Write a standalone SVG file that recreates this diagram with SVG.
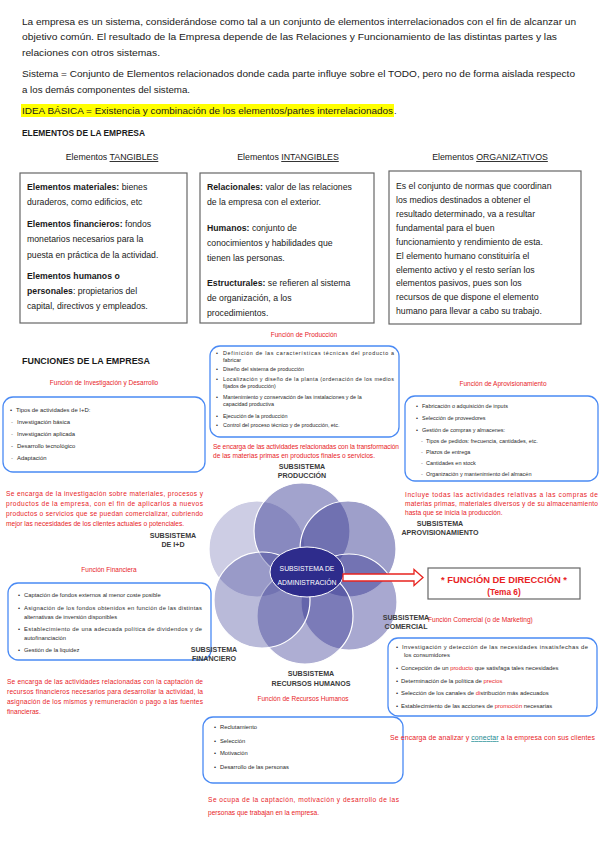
<svg xmlns="http://www.w3.org/2000/svg" width="599" height="848" viewBox="0 0 599 848">
<style>
text{font-family:"Liberation Sans",Arial,sans-serif}
.t{font-size:9.4px;fill:#1a1a1a}
.tb{font-size:9px;fill:#1a1a1a;font-weight:bold}
.bx{font-size:8.7px;fill:#1a1a1a}
.b{font-weight:bold}
.hd{font-size:8.8px;fill:#1a1a1a;text-anchor:middle}
.ebox{fill:#fff;stroke:#666;stroke-width:1.2}
.fbox{fill:#fff;stroke:#4a8af4;stroke-width:1.3}
.s{fill:#2a2a2a}
.r{fill:#e8231f;font-size:6.6px}
.rt{fill:#e8231f;font-size:6.5px;text-anchor:middle}
.lbl{font-size:7.1px;font-weight:bold;fill:#3a3a3a;text-anchor:middle}
.cw{font-size:6.8px;fill:#fff;text-anchor:middle}
.dash{fill:#777}
.c{fill:#3d3f96;stroke:#fff;stroke-width:1.2}
</style>

<g id="intro">
<text class="t" x="22" y="25" textLength="554" lengthAdjust="spacingAndGlyphs">La empresa es un sistema, considerándose como tal a un conjunto de elementos interrelacionados con el fin de alcanzar un</text>
<text class="t" x="22" y="40" textLength="535" lengthAdjust="spacingAndGlyphs">objetivo común. El resultado de la Empresa depende de las Relaciones y Funcionamiento de las distintas partes y las</text>
<text class="t" x="22" y="56" textLength="138" lengthAdjust="spacingAndGlyphs">relaciones con otros sistemas.</text>
<text class="t" x="22" y="77" textLength="553" lengthAdjust="spacingAndGlyphs">Sistema = Conjunto de Elementos relacionados donde cada parte influye sobre el TODO, pero no de forma aislada respecto</text>
<text class="t" x="22" y="93" textLength="168" lengthAdjust="spacingAndGlyphs">a los demás componentes del sistema.</text>
<rect x="21" y="104" width="373" height="13" fill="#ffff00"/>
<text class="t" x="22" y="114" textLength="371" lengthAdjust="spacingAndGlyphs">IDEA BÁSICA = Existencia y combinación de los elementos/partes interrelacionados</text>
<text class="t" x="394" y="114">.</text>
<text class="tb" x="22" y="136" textLength="123" lengthAdjust="spacingAndGlyphs">ELEMENTOS DE LA EMPRESA</text>
</g>

<g id="tangibles">
<text class="hd" x="112" y="160">Elementos <tspan text-decoration="underline">TANGIBLES</tspan></text>
<rect class="ebox" x="20" y="173" width="167" height="150"/>
<text class="bx" x="27" y="190"><tspan class="b">Elementos materiales:</tspan> bienes</text>
<text class="bx" x="27" y="205">duraderos, como edificios, etc</text>
<text class="bx" x="27" y="227"><tspan class="b">Elementos financieros:</tspan> fondos</text>
<text class="bx" x="27" y="242">monetarios necesarios para la</text>
<text class="bx" x="27" y="258">puesta en práctica de la actividad.</text>
<text class="bx b" x="27" y="279">Elementos humanos o</text>
<text class="bx" x="27" y="294"><tspan class="b">personales</tspan>: propietarios del</text>
<text class="bx" x="27" y="309">capital, directivos y empleados.</text>
</g>

<g id="intangibles">
<text class="hd" x="288" y="160">Elementos <tspan text-decoration="underline">INTANGIBLES</tspan></text>
<rect class="ebox" x="200" y="173" width="174" height="150"/>
<text class="bx" x="207" y="190"><tspan class="b">Relacionales:</tspan> valor de las relaciones</text>
<text class="bx" x="207" y="205">de la empresa con el exterior.</text>
<text class="bx" x="207" y="231"> <tspan class="b">Humanos:</tspan> conjunto de</text>
<text class="bx" x="207" y="246">conocimientos y habilidades que</text>
<text class="bx" x="207" y="261">tienen las personas.</text>
<text class="bx" x="207" y="286"><tspan class="b">Estructurales:</tspan> se refieren al sistema</text>
<text class="bx" x="207" y="301">de organización, a los</text>
<text class="bx" x="207" y="316">procedimientos.</text>
</g>

<g id="organizativos">
<text class="hd" x="490" y="160">Elementos <tspan text-decoration="underline">ORGANIZATIVOS</tspan></text>
<rect class="ebox" x="389" y="171" width="192" height="153"/>
<text class="bx" x="396" y="189">Es el conjunto de normas que coordinan</text>
<text class="bx" x="396" y="203">los medios destinados a obtener el</text>
<text class="bx" x="396" y="217">resultado determinado, va a resultar</text>
<text class="bx" x="396" y="231">fundamental para el buen</text>
<text class="bx" x="396" y="245">funcionamiento y rendimiento de esta.</text>
<text class="bx" x="396" y="259">El elemento humano constituiría el</text>
<text class="bx" x="396" y="273">elemento activo y el resto serían los</text>
<text class="bx" x="396" y="286">elementos pasivos, pues son los</text>
<text class="bx" x="396" y="300">recursos de que dispone el elemento</text>
<text class="bx" x="396" y="314">humano para llevar a cabo su trabajo.</text>
</g>

<text class="tb" x="22" y="364" textLength="128" lengthAdjust="spacingAndGlyphs">FUNCIONES DE LA EMPRESA</text>

<g id="produccion">
<text class="rt" x="304" y="337">Función de Producción</text>
<rect class="fbox" x="210" y="346" width="189" height="91" rx="10"/>
<g class="s" font-size="5.4">
<text x="216" y="355">•</text><text x="223" y="355" textLength="171" lengthAdjust="spacing">Definición de las características técnicas del producto a</text>
<text x="223" y="362">fabricar</text>
<text x="216" y="371">•</text><text x="223" y="371">Diseño del sistema de producción</text>
<text x="216" y="381">•</text><text x="223" y="381" textLength="171" lengthAdjust="spacing">Localización y diseño de la planta (ordenación de los medios</text>
<text x="223" y="388">fijados de producción)</text>
<text x="216" y="399">•</text><text x="223" y="399">Mantenimiento y conservación de las instalaciones y de la</text>
<text x="223" y="406">capacidad productiva</text>
<text x="216" y="418">•</text><text x="223" y="418">Ejecución de la producción</text>
<text x="216" y="427">•</text><text x="223" y="427">Control del proceso técnico y de producción, etc.</text>
</g>
<text class="r" x="213" y="449" textLength="186" lengthAdjust="spacing">Se encarga de las actividades relacionadas con la transformación</text>
<text class="r" x="213" y="458">de las materias primas en productos finales o servicios.</text>
</g>

<g id="id">
<text class="rt" x="104" y="385">Función de Investigación y Desarrollo</text>
<rect class="fbox" x="3" y="397" width="202" height="75" rx="10"/>
<g class="s" font-size="5.9">
<text x="10" y="412">•</text><text x="16" y="412">Tipos de actividades de I+D:</text>
<text class="dash" x="11" y="424">-</text><text x="17" y="424">Investigación básica</text>
<text class="dash" x="11" y="436">-</text><text x="17" y="436">Investigación aplicada</text>
<text x="11" y="448">-</text><text x="17" y="448">Desarrollo tecnológico</text>
<text class="dash" x="11" y="460">-</text><text x="17" y="460">Adaptación</text>
</g>
<text class="r" x="6" y="496" textLength="197" lengthAdjust="spacing">Se encarga de la investigación sobre materiales, procesos y</text>
<text class="r" x="6" y="506" textLength="197" lengthAdjust="spacing">productos de la empresa, con el fin de aplicarlos a nuevos</text>
<text class="r" x="6" y="516" textLength="197" lengthAdjust="spacing">productos o servicios que se puedan comercializar, cubriendo</text>
<text class="r" x="6" y="526">mejor las necesidades de los clientes actuales o potenciales.</text>
</g>

<g id="aprovisionamiento">
<text class="rt" x="503" y="386">Función de Aprovisionamiento</text>
<rect class="fbox" x="405" y="396" width="193" height="85" rx="10"/>
<g class="s" font-size="5.5">
<text x="416" y="408">•</text><text x="422" y="408">Fabricación o adquisición de inputs</text>
<text x="416" y="420">•</text><text x="422" y="420">Selección de proveedores</text>
<text x="416" y="432">•</text><text x="422" y="432">Gestión de compras y almacenes:</text>
<text class="dash" x="421" y="443">-</text><text x="426" y="443">Tipos de pedidos: frecuencia, cantidades, etc.</text>
<text class="dash" x="421" y="454">-</text><text x="426" y="454">Plazos de entrega</text>
<text class="dash" x="421" y="465">-</text><text x="426" y="465">Cantidades en stock</text>
<text class="dash" x="421" y="476">-</text><text x="426" y="476">Organización y mantenimiento del almacén</text>
</g>
<text class="r" x="405" y="497" textLength="193" lengthAdjust="spacing">Incluye todas las actividades relativas a las compras de</text>
<text class="r" x="405" y="506" textLength="193" lengthAdjust="spacing">materias primas, materiales diversos y de su almacenamiento</text>
<text class="r" x="405" y="515">hasta que se inicia la producción.</text>
</g>

<g id="subsistemas">
<circle class="c" cx="257" cy="549" r="48" fill-opacity="0.26"/>
<circle class="c" cx="302" cy="531" r="48" fill-opacity="0.48"/>
<circle class="c" cx="348" cy="549" r="48" fill-opacity="0.5"/>
<circle class="c" cx="349" cy="602" r="48" fill-opacity="0.45"/>
<circle class="c" cx="305" cy="616" r="48" fill-opacity="0.42"/>
<circle class="c" cx="262" cy="600" r="48" fill-opacity="0.36"/>
</g>

<g id="administracion">
<ellipse cx="307" cy="572" rx="37" ry="25" fill="#2e2c8c" stroke="#fff" stroke-width="1"/>
<text class="cw" x="307" y="571">SUBSISTEMA DE</text>
<text class="cw" x="307" y="585">ADMINISTRACIÓN</text>
</g>

<g id="connectors">
<path d="M343,574 H414 V569.5 L423,577.5 L414,585.5 V581 H343 Z" fill="#fff" stroke="#e8231f" stroke-width="1.3"/>
</g>

<g id="direccion">
<rect class="ebox" x="428" y="568" width="152" height="31"/>
<text x="504" y="583" font-size="8.3" font-weight="bold" fill="#e8231f" text-anchor="middle" textLength="126" lengthAdjust="spacingAndGlyphs">* FUNCIÓN DE DIRECCIÓN *</text>
<text x="504" y="595" font-size="8.3" font-weight="bold" fill="#e8231f" text-anchor="middle">(Tema 6)</text>
</g>

<g id="financiera">
<text class="rt" x="109" y="572">Función Financiera</text>
<rect class="fbox" x="8" y="583" width="203" height="77" rx="10"/>
<g class="s" font-size="5.8">
<text x="18" y="597">•</text><text x="24" y="597">Captación de fondos externos al menor coste posible</text>
<text x="18" y="610">•</text><text x="24" y="610" textLength="178" lengthAdjust="spacing">Asignación de los fondos obtenidos en función de las distintas</text>
<text x="24" y="619">alternativas de inversión disponibles</text>
<text x="18" y="631">•</text><text x="24" y="631" textLength="178" lengthAdjust="spacing">Establecimiento de una adecuada política de dividendos y de</text>
<text x="24" y="640">autofinanciación</text>
<text x="18" y="652">•</text><text x="24" y="652">Gestión de la liquidez</text>
</g>
<text class="r" x="7" y="684" textLength="196" lengthAdjust="spacing">Se encarga de las actividades relacionadas con la captación de</text>
<text class="r" x="7" y="694" textLength="196" lengthAdjust="spacing">recursos financieros necesarios para desarrollar la actividad, la</text>
<text class="r" x="7" y="704" textLength="196" lengthAdjust="spacing">asignación de los mismos y remuneración o pago a las fuentes</text>
<text class="r" x="7" y="714">financieras.</text>
</g>

<g id="rrhh">
<text class="rt" x="303" y="701">Función de Recursos Humanos</text>
<rect class="fbox" x="203" y="717" width="200" height="66" rx="10"/>
<g class="s" font-size="5.8">
<text x="214" y="729">•</text><text x="220" y="729">Reclutamiento</text>
<text x="214" y="743">•</text><text x="220" y="743">Selección</text>
<text x="214" y="755">•</text><text x="220" y="755">Motivación</text>
<text x="214" y="769">•</text><text x="220" y="769">Desarrollo de las personas</text>
</g>
<text class="r" x="208" y="802" textLength="191" lengthAdjust="spacing">Se ocupa de la captación, motivación y desarrollo de las</text>
<text class="r" x="208" y="815">personas que trabajan en la empresa.</text>
</g>

<g id="comercial">
<text class="r" x="428" y="622">Función Comercial (o de Marketing)</text>
<rect class="fbox" x="388" y="638" width="209" height="78" rx="10"/>
<g class="s" font-size="5.9">
<text x="396" y="649">•</text><text x="402" y="649" textLength="186" lengthAdjust="spacing">Investigación y detección de las necesidades insatisfechas de</text>
<text x="404" y="657">los consumidores</text>
<text x="396" y="670">•</text><text x="401" y="670">Concepción de un <tspan fill="#e8231f">producto</tspan> que satisfaga tales necesidades</text>
<text x="396" y="683">•</text><text x="401" y="683">Determinación de la política de <tspan fill="#e8231f">precios</tspan></text>
<text x="396" y="695">•</text><text x="401" y="695">Selección de los canales de <tspan fill="#e8231f">di</tspan>stribución más adecuados</text>
<text x="396" y="708">•</text><text x="401" y="708">Establecimiento de las acciones de <tspan fill="#e8231f">promoción</tspan> necesarias</text>
</g>
<text class="r" x="390" y="740" style="font-size:6.9px" textLength="205" lengthAdjust="spacing">Se encarga de analizar y <tspan fill="#17878f" text-decoration="underline">conectar</tspan> a la empresa con sus clientes</text>
</g>

<g id="labels">
<text class="lbl" x="302" y="469">SUBSISTEMA</text>
<text class="lbl" x="302" y="478">PRODUCCIÓN</text>
<text class="lbl" x="173" y="538">SUBSISTEMA</text>
<text class="lbl" x="173" y="547">DE I+D</text>
<text class="lbl" x="440" y="526">SUBSISTEMA</text>
<text class="lbl" x="440" y="535">APROVISIONAMIENTO</text>
<text class="lbl" x="406" y="620">SUBSISTEMA</text>
<text class="lbl" x="406" y="629">COMERCIAL</text>
<text class="lbl" x="214" y="652">SUBSISTEMA</text>
<text class="lbl" x="214" y="661">FINANCIERO</text>
<text class="lbl" x="311" y="676">SUBSISTEMA</text>
<text class="lbl" x="311" y="686">RECURSOS HUMANOS</text>
</g>
</svg>
